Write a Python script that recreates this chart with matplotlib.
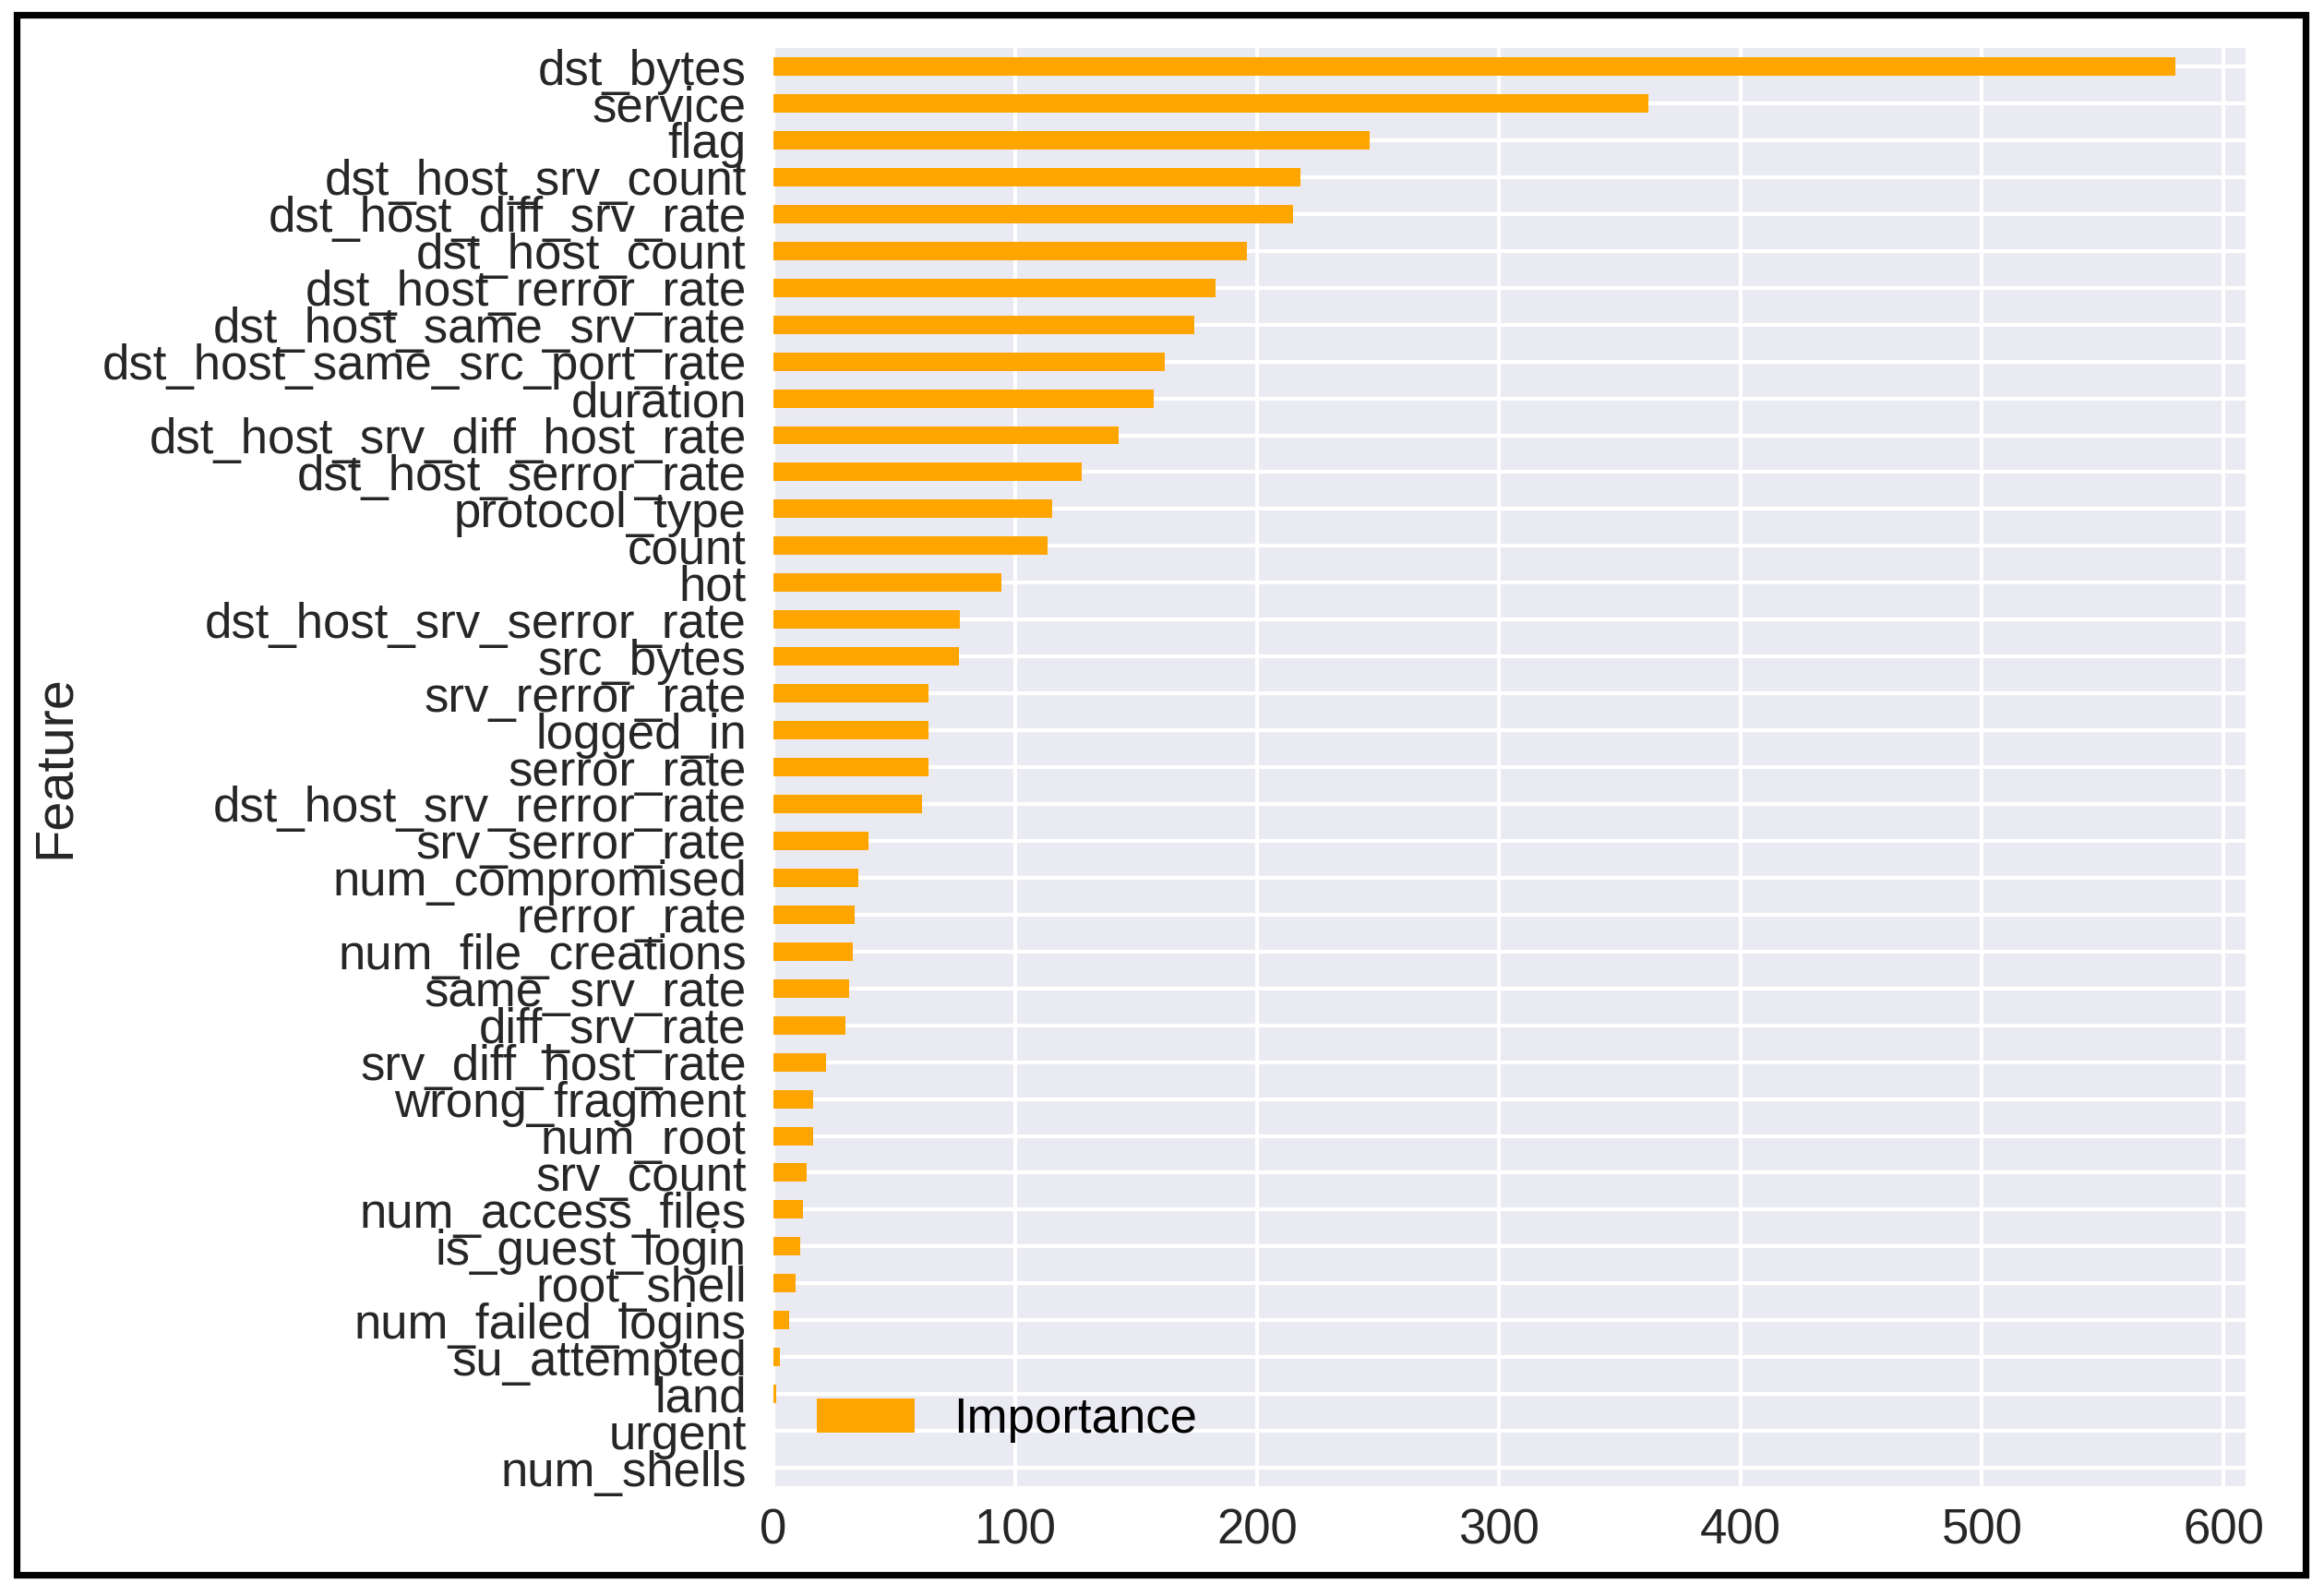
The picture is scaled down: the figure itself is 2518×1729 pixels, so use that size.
import numpy as np
import matplotlib
matplotlib.use("Agg")
import matplotlib.pyplot as plt
from matplotlib.patches import Rectangle

# feature importances, top to bottom as shown
features = ["dst_bytes", "service", "flag", "dst_host_srv_count", "dst_host_diff_srv_rate",
            "dst_host_count", "dst_host_rerror_rate", "dst_host_same_srv_rate",
            "dst_host_same_src_port_rate", "duration", "dst_host_srv_diff_host_rate",
            "dst_host_serror_rate", "protocol_type", "count", "hot", "dst_host_srv_serror_rate",
            "src_bytes", "srv_rerror_rate", "logged_in", "serror_rate", "dst_host_srv_rerror_rate",
            "srv_serror_rate", "num_compromised", "rerror_rate", "num_file_creations",
            "same_srv_rate", "diff_srv_rate", "srv_diff_host_rate", "wrong_fragment", "num_root",
            "srv_count", "num_access_files", "is_guest_login", "root_shell", "num_failed_logins",
            "su_attempted", "land", "urgent", "num_shells"]
importance = [580, 362, 246.5, 218, 215, 196, 183, 174, 162, 157.5, 143, 127.5, 115.5, 113.5,
              94.5, 77.3, 76.6, 64, 64, 64, 61.5, 39.3, 35.3, 33.7, 32.8, 31.2, 29.9, 21.7,
              16.6, 16.6, 13.7, 12.3, 11.1, 9.3, 6.4, 2.5, 1.3, 0, 0]

plt.rcParams["font.family"] = ["Liberation Sans", "DejaVu Sans"]
text_col = "#262626"

fig = plt.figure(figsize=(25.18, 17.29), dpi=100)
ax = fig.add_axes([0.3328, 0.0688, 0.6334, 0.9011])
ax.set_facecolor("#EAEAF2")
for s in ax.spines.values():
    s.set_visible(False)

ypos = np.arange(len(features))[::-1]
ax.barh(ypos, importance, height=0.5, color="orange", label="Importance", zorder=2)
ax.set_ylim(-0.5, len(features) - 0.5)
ax.set_xlim(0, 609)
ax.set_yticks(ypos)
ax.set_yticklabels(features)
ax.set_xticks([0, 100, 200, 300, 400, 500, 600])

ax.grid(True, color="white", linewidth=3, zorder=0)
ax.set_axisbelow(True)
ax.tick_params(axis="y", length=0, pad=21, labelsize=38, labelcolor=text_col)
ax.tick_params(axis="x", length=0, pad=17, labelsize=38, labelcolor=text_col)
ax.set_ylabel("Feature", fontsize=41.5, color=text_col, labelpad=17)

ax.legend(loc="lower left", fontsize=38, frameon=False)

# black frame round the whole picture
fig.patches.append(Rectangle((0.00695, 0.0133), 0.9853, 0.9772, transform=fig.transFigure,
                             fill=False, edgecolor="black", linewidth=5.2, zorder=10))

fig.savefig("out.png", dpi=100, facecolor="white")
